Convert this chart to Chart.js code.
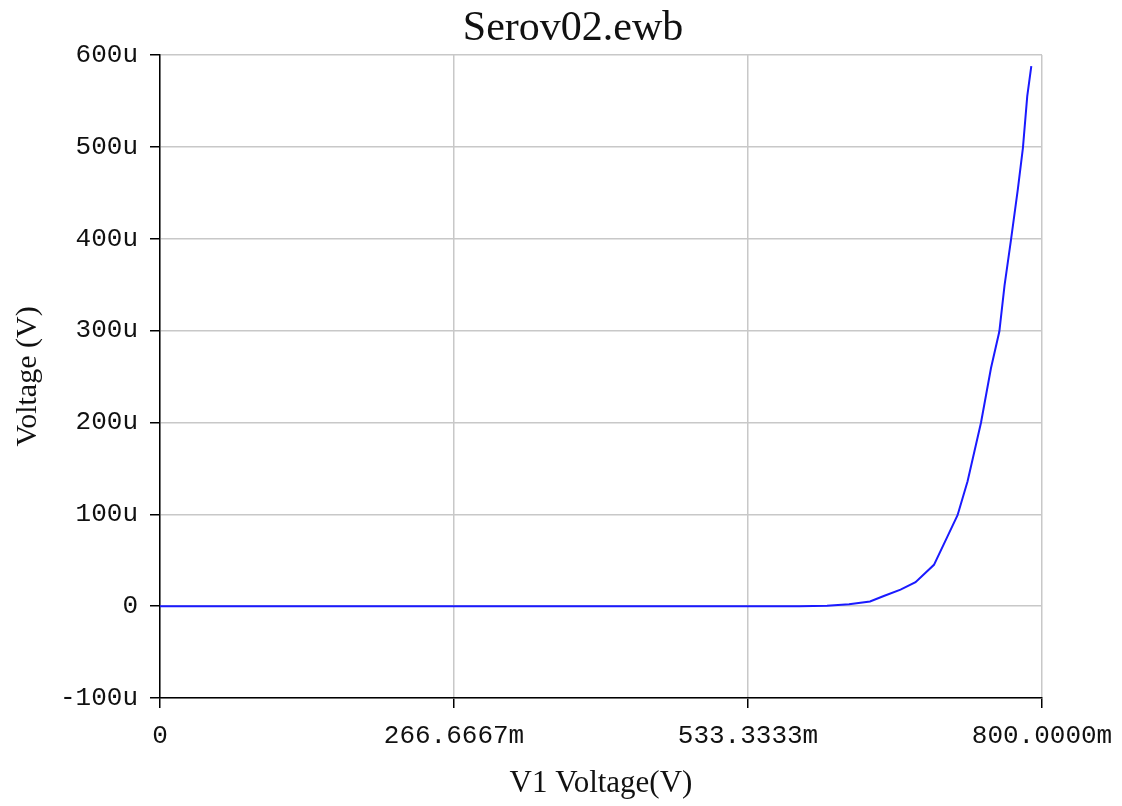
<!DOCTYPE html>
<html>
<head>
<meta charset="utf-8">
<title>Serov02.ewb</title>
<script src="https://cdn.jsdelivr.net/npm/chart.js@4.4.0/dist/chart.umd.min.js"></script>
<style>
    html, body { margin: 0; padding: 0; background: #fff; }
    #wrap { width: 1122px; height: 806px; }
</style>
</head>
<body>
<div id="wrap"><canvas id="grafico"></canvas></div>
<script>
// ============================
// DADOS (x em mV, y em uV)
// ============================
const tensaoV1 = [0, 100, 200, 300, 400, 500, 580, 605, 625, 644, 656.5, 671.7, 685.3, 702, 714.3, 723.4, 732.5, 744.7, 753.7, 761.3, 766, 771.9, 778.1, 782.7, 786.6, 790.3];
const tensaoSaida = [0, 0, 0, 0, 0, 0, 0, 0.5, 2, 5, 11, 18, 26, 45, 76, 99, 136, 200, 259, 299, 349, 399, 454, 499, 555, 588];
const ticksX = [0, 266.6667, 533.3333, 800];
const rotulosX = ["0", "266.6667m", "533.3333m", "800.0000m"];
const ticksY = [-100, 0, 100, 200, 300, 400, 500, 600];

const pontos = tensaoV1.map((x, i) => ({ x: x, y: tensaoSaida[i] }));

function rotuloY(v) {
    return v === 0 ? "0" : v + "u";
}

const fonteMono = "'Liberation Mono', 'Courier New', monospace";
const fonteSerif = "'Liberation Serif', 'Times New Roman', serif";

// titulo desenhado a mao, centrado como no original
const tituloPlugin = {
    id: "tituloPlugin",
    afterDraw(chart) {
        const c = chart.ctx;
        c.save();
        c.font = "42px " + fonteSerif;
        c.fillStyle = "#111";
        c.textAlign = "center";
        c.textBaseline = "middle";
        c.fillText("Serov02.ewb", 573, 29);
        c.restore();
    }
};

// ============================
// GRAFICO
// ============================
const ctx = document.getElementById("grafico");

new Chart(ctx, {
    type: "scatter",
    data: {
        datasets: [{
            data: pontos,
            showLine: true,
            borderColor: "#1a1aff",
            borderWidth: 2,
            pointRadius: 0,
            tension: 0
        }]
    },
    plugins: [tituloPlugin],
    options: {
        responsive: true,
        maintainAspectRatio: false,
        animation: false,
        layout: { padding: { left: 0, right: 80, top: 55, bottom: 0 } },
        plugins: {
            legend: { display: false },
            tooltip: { enabled: false },
            title: { display: false }
        },
        scales: {
            x: {
                type: "linear",
                min: 0,
                max: 800,
                afterBuildTicks: (s) => { s.ticks = ticksX.map(v => ({ value: v })); },
                afterFit: (s) => { s.height = 108; s.paddingLeft = 0; s.paddingRight = 0; },
                ticks: {
                    autoSkip: false,
                    maxRotation: 0,
                    padding: 13,
                    color: "#111",
                    font: { family: fonteMono, size: 26 },
                    callback: (v, i) => rotulosX[i]
                },
                grid: { color: "#c8c8c8", lineWidth: 1.5, tickColor: "#000", tickLength: 10 },
                border: { color: "#000", width: 1.5 },
                title: {
                    display: true,
                    text: "V1 Voltage(V)",
                    color: "#111",
                    font: { family: fonteSerif, size: 31 },
                    padding: { top: 4, bottom: 4 }
                }
            },
            y: {
                type: "linear",
                min: -100,
                max: 600,
                afterBuildTicks: (s) => { s.ticks = ticksY.map(v => ({ value: v })); },
                afterFit: (s) => { s.width = 160; s.paddingTop = 0; s.paddingBottom = 0; },
                ticks: {
                    autoSkip: false,
                    padding: 12,
                    color: "#111",
                    font: { family: fonteMono, size: 26 },
                    callback: (v) => rotuloY(v)
                },
                grid: { color: "#c8c8c8", lineWidth: 1.5, tickColor: "#000", tickLength: 10 },
                border: { color: "#000", width: 1.5 },
                title: {
                    display: true,
                    text: "Voltage (V)",
                    color: "#111",
                    font: { family: fonteSerif, size: 30 },
                    padding: { top: 10, bottom: 2 }
                }
            }
        }
    }
});
</script>
</body>
</html>
